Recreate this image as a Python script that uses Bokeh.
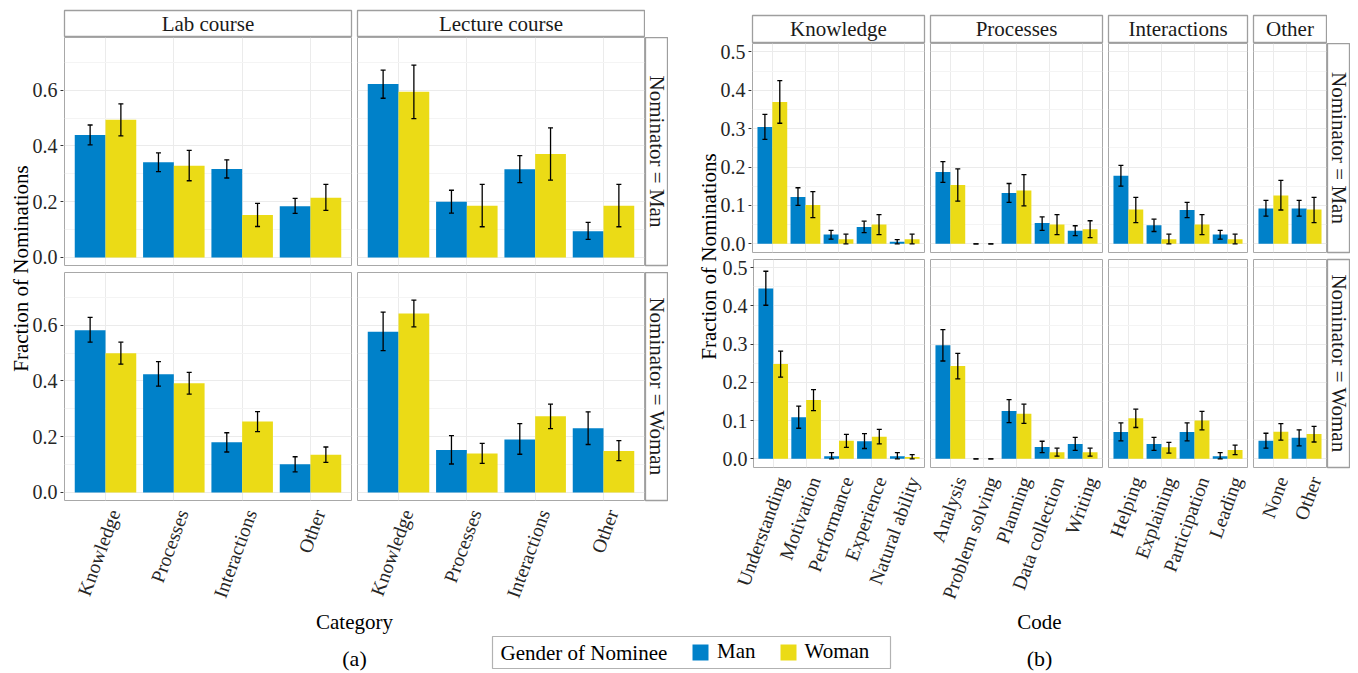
import math
from bokeh.plotting import figure
from bokeh.models import (Range1d, FixedTicker, LinearAxis, Label, Whisker, TeeHead,
                          ColumnDataSource, Legend, LegendItem, BoxAnnotation, PrintfTickFormatter)
from bokeh.transform import dodge
from bokeh.layouts import row, column
from bokeh.embed import file_html
from bokeh.resources import INLINE

# ---------------- data: panel (a) ----------------
categories_a = ["Knowledge", "Processes", "Interactions", "Other"]
courses = ["Lab course", "Lecture course"]
nominators = ["Nominator = Man", "Nominator = Woman"]

lab_nomman_man = [0.439, 0.341, 0.317, 0.184]
lab_nomman_man_lo = [0.404, 0.308, 0.285, 0.158]
lab_nomman_man_hi = [0.475, 0.375, 0.350, 0.212]
lab_nomman_woman = [0.494, 0.329, 0.152, 0.214]
lab_nomman_woman_lo = [0.436, 0.275, 0.111, 0.169]
lab_nomman_woman_hi = [0.551, 0.384, 0.194, 0.262]

lec_nomman_man = [0.622, 0.200, 0.316, 0.094]
lec_nomman_man_lo = [0.571, 0.159, 0.268, 0.065]
lec_nomman_man_hi = [0.672, 0.241, 0.365, 0.126]
lec_nomman_woman = [0.594, 0.185, 0.371, 0.185]
lec_nomman_woman_lo = [0.498, 0.110, 0.277, 0.110]
lec_nomman_woman_hi = [0.690, 0.262, 0.465, 0.262]

lab_nomwoman_man = [0.582, 0.424, 0.180, 0.101]
lab_nomwoman_man_lo = [0.539, 0.381, 0.145, 0.074]
lab_nomwoman_man_hi = [0.628, 0.469, 0.214, 0.128]
lab_nomwoman_woman = [0.499, 0.392, 0.254, 0.135]
lab_nomwoman_woman_lo = [0.460, 0.353, 0.218, 0.108]
lab_nomwoman_woman_hi = [0.539, 0.431, 0.290, 0.163]

lec_nomwoman_man = [0.576, 0.152, 0.190, 0.230]
lec_nomwoman_man_lo = [0.509, 0.102, 0.137, 0.172]
lec_nomwoman_man_hi = [0.647, 0.204, 0.247, 0.289]
lec_nomwoman_woman = [0.642, 0.140, 0.273, 0.149]
lec_nomwoman_woman_lo = [0.594, 0.104, 0.229, 0.114]
lec_nomwoman_woman_hi = [0.690, 0.176, 0.317, 0.186]

# ---------------- data: panel (b) ----------------
groups_b = ["Knowledge", "Processes", "Interactions", "Other"]
knowledge_codes = ["Understanding", "Motivation", "Performance", "Experience", "Natural ability"]
processes_codes = ["Analysis", "Problem solving", "Planning", "Data collection", "Writing"]
interactions_codes = ["Helping", "Explaining", "Participation", "Leading"]
other_codes = ["None", "Other"]

# Nominator = Man
k_nm_man = [0.304, 0.122, 0.024, 0.044, 0.005]
k_nm_man_lo = [0.272, 0.100, 0.012, 0.029, 0.0]
k_nm_man_hi = [0.337, 0.146, 0.035, 0.059, 0.011]
k_nm_woman = [0.369, 0.101, 0.012, 0.050, 0.012]
k_nm_woman_lo = [0.314, 0.068, 0.0, 0.024, 0.0]
k_nm_woman_hi = [0.425, 0.136, 0.025, 0.076, 0.025]
p_nm_man = [0.187, 0.0, 0.132, 0.054, 0.034]
p_nm_man_lo = [0.160, 0.0, 0.108, 0.035, 0.021]
p_nm_man_hi = [0.214, 0.0, 0.157, 0.070, 0.047]
p_nm_woman = [0.153, 0.0, 0.139, 0.050, 0.038]
p_nm_woman_lo = [0.111, 0.0, 0.099, 0.024, 0.016]
p_nm_woman_hi = [0.195, 0.0, 0.180, 0.076, 0.060]
i_nm_man = [0.177, 0.048, 0.088, 0.024]
i_nm_man_lo = [0.150, 0.032, 0.068, 0.012]
i_nm_man_hi = [0.204, 0.064, 0.108, 0.035]
i_nm_woman = [0.089, 0.012, 0.050, 0.012]
i_nm_woman_lo = [0.055, 0.0, 0.024, 0.0]
i_nm_woman_hi = [0.121, 0.025, 0.076, 0.025]
o_nm_man = [0.092, 0.092]
o_nm_man_lo = [0.072, 0.072]
o_nm_man_hi = [0.113, 0.113]
o_nm_woman = [0.126, 0.089]
o_nm_woman_lo = [0.088, 0.055]
o_nm_woman_hi = [0.165, 0.121]

# Nominator = Woman
k_nw_man = [0.446, 0.109, 0.007, 0.046, 0.007]
k_nw_man_lo = [0.402, 0.080, 0.0, 0.027, 0.0]
k_nw_man_hi = [0.491, 0.138, 0.016, 0.066, 0.016]
k_nw_woman = [0.248, 0.154, 0.047, 0.058, 0.005]
k_nw_woman_lo = [0.214, 0.126, 0.030, 0.039, 0.0]
k_nw_woman_hi = [0.282, 0.181, 0.064, 0.077, 0.011]
p_nw_man = [0.297, 0.0, 0.125, 0.031, 0.039]
p_nw_man_lo = [0.256, 0.0, 0.095, 0.016, 0.022]
p_nw_man_hi = [0.338, 0.0, 0.155, 0.046, 0.056]
p_nw_woman = [0.243, 0.0, 0.118, 0.017, 0.017]
p_nw_woman_lo = [0.209, 0.0, 0.093, 0.007, 0.007]
p_nw_woman_hi = [0.276, 0.0, 0.143, 0.028, 0.028]
i_nw_man = [0.070, 0.039, 0.070, 0.007]
i_nw_man_lo = [0.047, 0.022, 0.047, 0.0]
i_nw_man_hi = [0.094, 0.056, 0.094, 0.016]
i_nw_woman = [0.106, 0.030, 0.100, 0.023]
i_nw_woman_lo = [0.082, 0.015, 0.076, 0.011]
i_nw_woman_hi = [0.130, 0.043, 0.124, 0.036]
o_nw_man = [0.047, 0.055]
o_nw_man_lo = [0.028, 0.034]
o_nw_man_hi = [0.067, 0.076]
o_nw_woman = [0.071, 0.065]
o_nw_woman_lo = [0.049, 0.044]
o_nw_woman_hi = [0.092, 0.085]

yticks_a = [0.0, 0.2, 0.4, 0.6]
yminor_a = [0.1, 0.3, 0.5, 0.7]
yticks_b = [0.0, 0.1, 0.2, 0.3, 0.4, 0.5]
yminor_b = [0.05, 0.15, 0.25, 0.35, 0.45]
genders = ["Man", "Woman"]

# ---------------- style ----------------
FONT = "Liberation Serif"
BLUE = "#0081C9"
YELLOW = "#EBDB16"
PANEL = "#A8A8A8"
STRIP = "#9E9E9E"
GRID = "#EBEBEB"
MINOR = "#F4F4F4"
TICKTXT = "#262626"
XLAB_SIZE = "19.5px"
XLAB_SHIFT_PX = 9
XLAB_STANDOFF = 10


def base_fig(w, h, xr, yr, ml, mr, mt, mb, outline, ow=1):
    p = figure(width=w, height=h, x_range=xr, y_range=yr,
               x_axis_location=None, y_axis_location=None,
               output_backend="svg", toolbar_location=None,
               min_border_left=ml, min_border_right=mr,
               min_border_top=mt, min_border_bottom=mb,
               background_fill_color="white", border_fill_color="white",
               outline_line_color=outline, outline_line_width=ow)
    return p


def text_fig(w, h):
    p = base_fig(w, h, Range1d(0, w), Range1d(0, h), 0, 0, 0, 0, None)
    p.grid.visible = False
    return p


def add_yaxis(p, yt):
    ax = LinearAxis(ticker=FixedTicker(ticks=yt),
                    formatter=PrintfTickFormatter(format="%.1f"))
    ax.axis_line_color = None
    ax.major_tick_line_color = "#333333"
    ax.major_tick_out = 3
    ax.major_tick_in = 0
    ax.minor_tick_line_color = None
    ax.major_label_standoff = 3
    ax.major_label_text_font = FONT
    ax.major_label_text_font_size = "20px"
    ax.major_label_text_color = TICKTXT
    p.add_layout(ax, "left")


def yaxis_fig(w, ylim, yt, fh, mt, mb):
    p = base_fig(w, mt + fh + mb, Range1d(0, 1), Range1d(*ylim), w - 1, 0, mt, mb, None)
    p.grid.visible = False
    add_yaxis(p, yt)
    return p


def facet(cats, m, mlo, mhi, wv, wlo, whi, ylim, yt, ymin,
          fw, fh, ml, mr, mt, mb, show_x, show_y=False):
    n = len(cats)
    p = base_fig(ml + fw + mr, mt + fh + mb, Range1d(-0.6, n - 0.4), Range1d(*ylim),
                 ml, mr, mt, mb, PANEL)
    p.xgrid.ticker = FixedTicker(ticks=list(range(n)))
    p.ygrid.ticker = FixedTicker(ticks=yt, minor_ticks=ymin)
    p.xgrid.grid_line_color = GRID
    p.ygrid.grid_line_color = GRID
    p.ygrid.minor_grid_line_color = MINOR
    src = ColumnDataSource(dict(idx=list(range(n)), m=m, mlo=mlo, mhi=mhi,
                                w=wv, wlo=wlo, whi=whi))
    p.vbar(x=dodge("idx", -0.225), top="m", bottom=0, width=0.45, source=src,
           fill_color=BLUE, line_color=None)
    p.vbar(x=dodge("idx", 0.225), top="w", bottom=0, width=0.45, source=src,
           fill_color=YELLOW, line_color=None)
    for off, lo, hi in ((-0.225, "mlo", "mhi"), (0.225, "wlo", "whi")):
        wk = Whisker(source=src, base=dodge("idx", off), lower=lo, upper=hi,
                     line_color="black", line_width=1.3, level="annotation",
                     upper_head=TeeHead(size=5, line_color="black", line_width=1.3),
                     lower_head=TeeHead(size=5, line_color="black", line_width=1.3))
        p.add_layout(wk)
    if show_y:
        add_yaxis(p, yt)
    if show_x:
        # rotated labels: Bokeh anchors the middle of the text's right end, so shift the
        # label positions to put the text's top-right corner at the category centre
        sh = XLAB_SHIFT_PX / (fw / (n - 1 + 1.2))
        ticks = [i + sh for i in range(n)]
        ax = LinearAxis(ticker=FixedTicker(ticks=ticks),
                        major_label_overrides={t: c for t, c in zip(ticks, cats)},
                        major_label_orientation=math.radians(70))
        ax.axis_line_color = None
        ax.major_tick_line_color = None
        ax.major_tick_out = 0
        ax.major_tick_in = 0
        ax.minor_tick_line_color = None
        ax.major_label_standoff = XLAB_STANDOFF
        ax.major_label_text_font = FONT
        ax.major_label_text_font_size = XLAB_SIZE
        ax.major_label_text_color = TICKTXT
        p.add_layout(ax, "below")
    return p


def strip(text, fw, fh, ml, mr, mt, mb, angle=0.0):
    p = base_fig(ml + fw + mr, mt + fh + mb, Range1d(0, 1), Range1d(0, 1),
                 ml, mr, mt, mb, STRIP, 1.3)
    p.grid.visible = False
    p.add_layout(Label(x=0.5, y=0.5, text=text, text_align="center",
                       text_baseline="middle", angle=angle, text_font=FONT,
                       text_font_size="21px", text_color="#1A1A1A"))
    return p


H = 608
MB_A = 108
MB_B = 140

# ---------------- (a) block ----------------
YL_A = (-0.029, 0.789)
FH_A = 228
s_lab = strip(courses[0], 287, 26, 1, 3, 10, 1)
s_lec = strip(courses[1], 287, 26, 3, 1, 10, 1)

a_tl = facet(categories_a, lab_nomman_man, lab_nomman_man_lo, lab_nomman_man_hi,
             lab_nomman_woman, lab_nomman_woman_lo, lab_nomman_woman_hi,
             YL_A, yticks_a, yminor_a, 287, FH_A, 1, 3, 0, 7, False)
a_tr = facet(categories_a, lec_nomman_man, lec_nomman_man_lo, lec_nomman_man_hi,
             lec_nomman_woman, lec_nomman_woman_lo, lec_nomman_woman_hi,
             YL_A, yticks_a, yminor_a, 287, FH_A, 3, 1, 0, 7, False)
a_rs1 = strip(nominators[0], 23, FH_A, 0, 0, 0, 7, -math.pi / 2)

a_bl = facet(categories_a, lab_nomwoman_man, lab_nomwoman_man_lo, lab_nomwoman_man_hi,
             lab_nomwoman_woman, lab_nomwoman_woman_lo, lab_nomwoman_woman_hi,
             YL_A, yticks_a, yminor_a, 287, FH_A, 1, 3, 0, MB_A, True)
a_br = facet(categories_a, lec_nomwoman_man, lec_nomwoman_man_lo, lec_nomwoman_man_hi,
             lec_nomwoman_woman, lec_nomwoman_woman_lo, lec_nomwoman_woman_hi,
             YL_A, yticks_a, yminor_a, 287, FH_A, 3, 1, 0, MB_A, True)
a_rs2 = strip(nominators[1], 23, FH_A, 0, 0, 0, MB_A, -math.pi / 2)

ytitle_a = text_fig(32, H)
ytitle_a.add_layout(Label(x=20, y=H - 268, text="Fraction of Nominations", angle=math.pi / 2,
                          text_align="center", text_baseline="middle", text_font=FONT,
                          text_font_size="21px", text_color="black"))
yax_a = column(yaxis_fig(31, YL_A, yticks_a, FH_A, 37, 3),
               yaxis_fig(31, YL_A, yticks_a, FH_A, 4, MB_A))

a_block = row(ytitle_a, yax_a,
              column(row(s_lab, s_lec), row(a_tl, a_tr, a_rs1), row(a_bl, a_br, a_rs2)))

# ---------------- (b) block ----------------
YL_B = (-0.0227, 0.5217)
FH_B = 209
b_groups = [
    (knowledge_codes, 172, 1, 3,
     (k_nm_man, k_nm_man_lo, k_nm_man_hi, k_nm_woman, k_nm_woman_lo, k_nm_woman_hi),
     (k_nw_man, k_nw_man_lo, k_nw_man_hi, k_nw_woman, k_nw_woman_lo, k_nw_woman_hi)),
    (processes_codes, 172, 3, 3,
     (p_nm_man, p_nm_man_lo, p_nm_man_hi, p_nm_woman, p_nm_woman_lo, p_nm_woman_hi),
     (p_nw_man, p_nw_man_lo, p_nw_man_hi, p_nw_woman, p_nw_woman_lo, p_nw_woman_hi)),
    (interactions_codes, 139, 3, 3,
     (i_nm_man, i_nm_man_lo, i_nm_man_hi, i_nm_woman, i_nm_woman_lo, i_nm_woman_hi),
     (i_nw_man, i_nw_man_lo, i_nw_man_hi, i_nw_woman, i_nw_woman_lo, i_nw_woman_hi)),
    (other_codes, 73, 3, 1,
     (o_nm_man, o_nm_man_lo, o_nm_man_hi, o_nm_woman, o_nm_woman_lo, o_nm_woman_hi),
     (o_nw_man, o_nw_man_lo, o_nw_man_hi, o_nw_woman, o_nw_woman_lo, o_nw_woman_hi)),
]

YAXW_B = 32
b_strips, b_top, b_bot = [], [], []
for gi, (codes, fw, ml, mr, dm, dw) in enumerate(b_groups):
    b_strips.append(strip(groups_b[gi], fw, 27, ml, mr, 15, 1))
    b_top.append(facet(codes, *dm, YL_B, yticks_b, yminor_b, fw, FH_B, ml, mr, 0, 4, False))
    # the first bottom panel carries its own y axis so its long rotated label has room
    b_bot.append(facet(codes, *dw, YL_B, yticks_b, yminor_b, fw, FH_B,
                       ml + (YAXW_B if gi == 0 else 0), mr, 3, MB_B, True, gi == 0))
b_top.append(strip(nominators[0], 23, FH_B, 0, 0, 0, 4, -math.pi / 2))
b_bot.append(strip(nominators[1], 23, FH_B, 0, 0, 3, MB_B, -math.pi / 2))

ytitle_b = text_fig(51, H)
ytitle_b.add_layout(Label(x=40, y=H - 256, text="Fraction of Nominations", angle=math.pi / 2,
                          text_align="center", text_baseline="middle", text_font=FONT,
                          text_font_size="21px", text_color="black"))
yax_b_top = yaxis_fig(YAXW_B, YL_B, yticks_b, FH_B, 43, 4)

b_block = row(ytitle_b,
              column(row(yax_b_top, column(row(*b_strips), row(*b_top))),
                     row(*b_bot)))

# ---------------- bottom: axis titles, captions, legend ----------------
BH = 64          # page y 608 .. 672; canvas y = 672 - page y
bot = text_fig(1350, BH)
for x, y, t, sz in ((354, 51, "Category", "21px"), (1039, 51, "Code", "21px"),
                    (354, 14, "(a)", "22px"), (1039, 14, "(b)", "22px")):
    bot.add_layout(Label(x=x, y=y, text=t, text_align="center", text_baseline="middle",
                         text_font=FONT, text_font_size=sz, text_color="black"))

bot.add_layout(BoxAnnotation(left=492, right=890, bottom=4, top=36,
                             fill_color=None, line_color="black", line_width=1.2))
bot.add_layout(Label(x=500, y=20, text="Gender of Nominee", text_align="left",
                     text_baseline="middle", text_font=FONT, text_font_size="21px",
                     text_color="black"))
leg_src = ColumnDataSource(dict(x=[0, 0], top=[0, 0], color=[BLUE, YELLOW], gender=genders))
r_leg = bot.vbar(x="x", top="top", bottom=0, width=0, fill_color="color", line_color=None,
                 source=leg_src)
leg = Legend(items=[LegendItem(label=genders[0], renderers=[r_leg], index=0),
                    LegendItem(label=genders[1], renderers=[r_leg], index=1)],
             orientation="horizontal", location=(690, 8), glyph_width=20, glyph_height=20,
             label_standoff=7, spacing=22, padding=0, margin=0, border_line_color=None,
             background_fill_alpha=0, label_text_font=FONT, label_text_font_size="21px",
             label_text_color="black", label_height=20)
bot.add_layout(leg)

layout = column(row(a_block, b_block), bot)

open("out.html", "w").write(file_html(layout, INLINE))
